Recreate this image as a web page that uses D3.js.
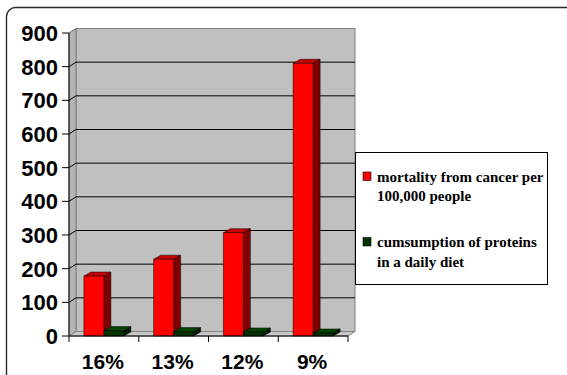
<!DOCTYPE html>
<html>
<head>
<meta charset="utf-8">
<script src="https://cdn.jsdelivr.net/npm/d3@7"></script>
<style>
  html, body { margin: 0; padding: 0; background: #fff; }
  svg { display: block; }
</style>
</head>
<body>
<svg id="chart" width="567" height="375"></svg>
<script>
// Protein share of daily diet (category) vs. cancer mortality
const categories = ["16%", "13%", "12%", "9%"];
const mortality = [178, 228, 307, 810];     // per 100,000 people
const proteinShare = [16, 13, 12, 9];       // % of daily diet
const yTicks = [0, 100, 200, 300, 400, 500, 600, 700, 800, 900];
const seriesNames = ["mortality from cancer per 100,000 people", "cumsumption of proteins in a daily diet"];
const legendLines = [["mortality from cancer per", "100,000 people"], ["cumsumption of proteins", "in a daily diet"]];

const svg = d3.select("#chart");

// frame
svg.append("rect")
  .attr("x", 6.5).attr("y", 7.5)
  .attr("width", 620).attr("height", 420)
  .attr("rx", 9)
  .attr("fill", "#fff").attr("stroke", "#2b2b2b").attr("stroke-width", 1.4);

// front plane of the 3-D plot box
const plotL = 69, plotR = 348, plotB = 336, plotT = 33;
const DX = 7, DY = -4.5;      // wall depth
const BDX = 7, BDY = -4;      // bar depth

const y = d3.scaleLinear().domain([0, 900]).range([plotB, plotT]);
const x = d3.scaleBand().domain(categories).range([plotL, plotR]);
const xs = d3.scaleBand().domain([0, 1]).range([0, 40]);

const g = svg.append("g");

// back wall
g.append("rect")
  .attr("x", plotL + DX).attr("y", plotT + DY)
  .attr("width", plotR - plotL).attr("height", plotB - plotT)
  .attr("fill", "#c0c0c0").attr("stroke", "#808080").attr("stroke-width", 1);

// side wall
g.append("path")
  .attr("d", `M${plotL},${plotT}L${plotL + DX},${plotT + DY}L${plotL + DX},${plotB + DY}L${plotL},${plotB}Z`)
  .attr("fill", "#b4b4b4").attr("stroke", "#808080").attr("stroke-width", 1);

// floor
g.append("path")
  .attr("d", `M${plotL},${plotB}L${plotR},${plotB}L${plotR + DX},${plotB + DY}L${plotL + DX},${plotB + DY}Z`)
  .attr("fill", "#c8c8c8").attr("stroke", "#808080").attr("stroke-width", 1);

// gridlines: diagonal across the side wall, then across the back wall
g.append("g").selectAll("path")
  .data(yTicks.filter(d => d > 0))
  .join("path")
  .attr("d", d => `M${plotL},${y(d)}L${plotL + DX},${y(d) + DY}L${plotR + DX},${y(d) + DY}`)
  .attr("fill", "none")
  .attr("stroke", d => d === 900 ? "#808080" : "#000")
  .attr("stroke-width", 1);

// 3-D bars
function bar(parent, x0, w, v, colors) {
  const x1 = x0 + w, yt = y(v), yb = plotB;
  const b = parent.append("g").attr("stroke", "#000").attr("stroke-width", 0.5).attr("stroke-linejoin", "round");
  b.append("path")
    .attr("d", `M${x1},${yb}L${x1 + BDX},${yb + BDY}L${x1 + BDX},${yt + BDY}L${x1},${yt}Z`)
    .attr("fill", colors[1]);
  b.append("path")
    .attr("d", `M${x0},${yt}L${x0 + BDX},${yt + BDY}L${x1 + BDX},${yt + BDY}L${x1},${yt}Z`)
    .attr("fill", colors[2]);
  b.append("rect")
    .attr("x", x0).attr("y", yt).attr("width", w).attr("height", yb - yt)
    .attr("fill", colors[0]);
}

const red = ["#ff0000", "#800000", "#c80000"];
const green = ["#003300", "#001a00", "#004400"];
const barsG = g.append("g");
categories.forEach((c, i) => {
  const cx = x(c) + x.bandwidth() / 2 - 20;
  bar(barsG, cx + xs(0), xs.bandwidth(), mortality[i], red);
  bar(barsG, cx + xs(1), xs.bandwidth(), proteinShare[i], green);
});

// y axis
const yAxis = g.append("g");
yAxis.append("line")
  .attr("x1", plotL).attr("x2", plotL).attr("y1", plotT).attr("y2", plotB)
  .attr("stroke", "#000");
yAxis.selectAll("line.tick")
  .data(yTicks).join("line").attr("class", "tick")
  .attr("x1", plotL - 7).attr("x2", plotL).attr("y1", d => y(d)).attr("y2", d => y(d))
  .attr("stroke", "#000");
yAxis.selectAll("text")
  .data(yTicks).join("text")
  .attr("x", 58).attr("y", d => y(d))
  .attr("dy", "0.36em")
  .attr("text-anchor", "end")
  .attr("font-family", "'Liberation Sans', Arial, sans-serif")
  .attr("font-weight", "bold").attr("font-size", 22)
  .attr("fill", "#000")
  .text(d => d);

// x axis
const xAxis = g.append("g");
xAxis.append("line")
  .attr("x1", plotL).attr("x2", plotR).attr("y1", plotB).attr("y2", plotB)
  .attr("stroke", "#000");
const xTickPos = categories.map(c => x(c)).concat([plotR]);
xAxis.selectAll("line.tick")
  .data(xTickPos).join("line").attr("class", "tick")
  .attr("x1", d => d).attr("x2", d => d).attr("y1", plotB).attr("y2", plotB + 6)
  .attr("stroke", "#000");
xAxis.selectAll("text")
  .data(categories).join("text")
  .attr("x", d => x(d) + x.bandwidth() / 2 - 1)
  .attr("y", 369)
  .attr("text-anchor", "middle")
  .attr("font-family", "'Liberation Sans', Arial, sans-serif")
  .attr("font-weight", "bold").attr("font-size", 21)
  .attr("fill", "#000")
  .text(d => d);

// legend
const legend = svg.append("g");
legend.append("rect")
  .attr("x", 355.5).attr("y", 152.5).attr("width", 192).attr("height", 132)
  .attr("fill", "#fff").attr("stroke", "#000").attr("stroke-width", 1);
const legendColors = ["#ff0000", "#003300"];
const legendY = [172, 237.5];
seriesNames.forEach((name, i) => {
  const item = legend.append("g").attr("aria-label", name);
  item.append("rect")
    .attr("x", 363).attr("y", legendY[i]).attr("width", 8).attr("height", 8.5)
    .attr("fill", legendColors[i]).attr("stroke", "#000").attr("stroke-width", 0.6);
  item.selectAll("text")
    .data(legendLines[i]).join("text")
    .attr("x", 377)
    .attr("y", (d, j) => legendY[i] + 9.5 + j * 19.5)
    .attr("font-family", "'Liberation Serif', 'Times New Roman', serif")
    .attr("font-weight", "bold").attr("font-size", 15)
    .attr("fill", "#000")
    .text(d => d);
});
</script>
</body>
</html>
